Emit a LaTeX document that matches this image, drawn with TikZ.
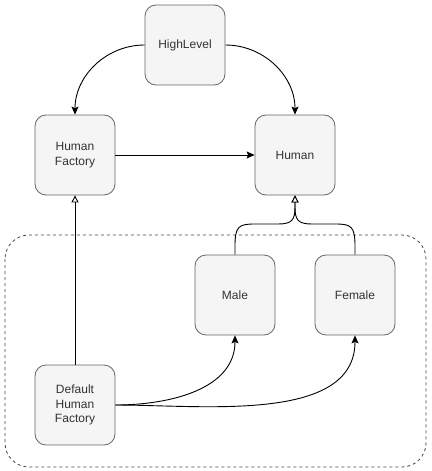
\documentclass[tikz,border=0pt]{standalone}
\usepackage{fontspec}
\setmainfont{Liberation Sans}
\usetikzlibrary{arrows.meta}
\definecolor{boxfill}{HTML}{F5F5F5}
\definecolor{boxline}{HTML}{666666}
\definecolor{boxtext}{HTML}{333333}
\definecolor{groupline}{HTML}{444444}
\tikzset{
  box/.style={draw=boxline, fill=boxfill, rounded corners=11pt, minimum width=80pt, minimum height=80pt,
    inner sep=0pt, text=boxtext, align=center, font=\fontsize{12pt}{14.5pt}\selectfont, line width=0.8pt},
  edge/.style={draw=black, line width=0.9pt, -{Stealth[length=8pt,width=7pt,inset=1.5pt]}},
  inherit/.style={draw=black, line width=0.9pt, -{Triangle[open,length=7pt,width=7pt,fill=white]}},
  group/.style={draw=groupline, dash pattern=on 3pt off 3pt, rounded corners=24pt, line width=0.8pt}
}
\begin{document}
\begin{tikzpicture}[x=1pt,y=-1pt]
\useasboundingbox (0,0) rectangle (431,471);
\draw[group] (5,235) rectangle (426,467);
\node[box] (high) at (185,45) {HighLevel};
\node[box] (hf) at (75,155) {Human\\Factory};
\node[box] (human) at (295,155) {Human};
\node[box] (male) at (235,295) {Male};
\node[box] (female) at (355,295) {Female};
\node[box] (dhf) at (75,405) {Default\\Human\\Factory};
\draw[edge] (high.west) to[out=180,in=90] (hf.north);
\draw[edge] (high.east) to[out=0,in=90] (human.north);
\draw[edge] (hf.east) -- (human.west);
\draw[inherit] (male.north) -- (235,246) .. controls (235,226) and (239,224) .. (255,224) -- (278,224)
  .. controls (292,224) and (295,220) .. (295,207) -- (human.south);
\draw[inherit] (female.north) -- (355,246) .. controls (355,226) and (351,224) .. (335,224) -- (312,224)
  .. controls (298,224) and (295,220) .. (295,207) -- (human.south);
\draw[inherit] (dhf.north) -- (hf.south);
\draw[edge] (dhf.east) to[out=0,in=-90] (male.south);
\draw[edge] (dhf.east) to[out=0,in=-90,looseness=0.9] (female.south);
\end{tikzpicture}
\end{document}
